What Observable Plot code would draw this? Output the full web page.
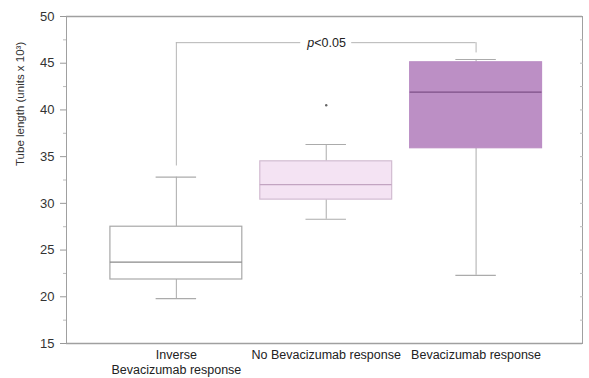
<!DOCTYPE html>
<html>
<head>
<meta charset="utf-8">
<script src="https://cdn.jsdelivr.net/npm/d3@7"></script>
<script src="https://cdn.jsdelivr.net/npm/@observablehq/plot@0.6"></script>
<style>
  html, body { margin: 0; padding: 0; background: #fff; }
  #chart svg { display: block; }
</style>
</head>
<body>
<div id="chart"></div>
<script>
// ---- data ----
const categories = ["Inverse\nBevacizumab response", "No Bevacizumab response", "Bevacizumab response"];
const whiskerLow  = [19.8, 28.3, 22.3];
const q1          = [21.85, 30.4, 35.9];
const median      = [23.7, 32.0, 41.9];
const q3          = [27.5, 34.5, 45.1];
const whiskerHigh = [32.8, 36.3, 45.4];
const outlierGroup = [1];
const outlierValue = [40.5];
const yTicks = [15, 20, 25, 30, 35, 40, 45, 50];
const yMinorTicks = [17.5, 22.5, 27.5, 32.5, 37.5, 42.5, 47.5];
const yLabel = "Tube length (units x 10³)";
const pLabelItalic = "p";
const pLabelRest = "<0.05";
const bracketGroups = [0, 2];
const bracketLevel = 47.2;
const bracketLegEnds = [34.0, 46.1];

// ---- styles ----
const boxFill   = ["#ffffff", "#f4e3f3", "#bc8fc5"];
const boxStroke = ["#a8a8a8", "#d2bcd1", "#bc8fc5"];
const medStroke = ["#8a8a8a", "#c2a4c1", "#7d4f86"];
const halfBox = 0.44, halfCap = 0.135, halfGap = 0.17;
const font = "Liberation Sans, Arial, sans-serif";

const rows = categories.map((c, i) => ({
  i, pos: i + 1, c, lo: whiskerLow[i], q1: q1[i], med: median[i], q3: q3[i], hi: whiskerHigh[i]
}));
const outliers = outlierGroup.map((g, k) => ({pos: g + 1, v: outlierValue[k]}));
const bx1 = bracketGroups[0] + 1, bx2 = bracketGroups[1] + 1, bmid = (bx1 + bx2) / 2;
const bracketSegs = [{x1: bx1, x2: bmid - halfGap}, {x1: bmid + halfGap, x2: bx2}];

const chart = Plot.plot({
  width: 589,
  height: 378,
  marginLeft: 66,
  marginRight: 7,
  marginTop: 16,
  marginBottom: 35,
  style: {fontFamily: font, color: "#222", background: "#fff"},
  x: {type: "linear", domain: [0.267, 3.71]},
  y: {domain: [15, 50]},
  marks: [
    Plot.frame({stroke: "#a0a0a0"}),
    Plot.ruleY([15, 50], {stroke: "#a0a0a0", strokeWidth: 1.6}),
    Plot.axisY(yTicks, {tickSize: 6, tickPadding: 6, fontSize: 13, stroke: "#999", fill: "#333", label: null}),
    Plot.axisY(yMinorTicks, {tickSize: 3, tickFormat: () => "", stroke: "#bbb", label: null}),
    Plot.axisY(yMinorTicks.concat(yTicks.slice(1, -1)), {anchor: "right", tickSize: -3, tickFormat: () => "", stroke: "#bbb", label: null}),
    Plot.axisX([1, 2, 3], {tickSize: 0, tickPadding: 5, fontSize: 12.5, fill: "#222", lineHeight: 1.2, tickFormat: d => categories[d - 1], label: null}),
    Plot.text([yLabel], {frameAnchor: "left", rotate: -90, dx: -46, dy: -14, fontSize: 11.5, fill: "#333"}),
    // whiskers
    Plot.ruleX(rows, {x: "pos", y1: "lo", y2: "q1", stroke: "#ababab"}),
    Plot.ruleX(rows, {x: "pos", y1: "q3", y2: "hi", stroke: "#ababab"}),
    Plot.ruleY(rows, {y: "lo", x1: d => d.pos - halfCap, x2: d => d.pos + halfCap, stroke: "#ababab", strokeWidth: 1.2}),
    Plot.ruleY(rows, {y: "hi", x1: d => d.pos - halfCap, x2: d => d.pos + halfCap, stroke: "#ababab", strokeWidth: 1.2}),
    // boxes
    Plot.rect(rows, {x1: d => d.pos - halfBox, x2: d => d.pos + halfBox, y1: "q1", y2: "q3",
      fill: d => boxFill[d.i], stroke: d => boxStroke[d.i], strokeWidth: 1.2}),
    Plot.ruleY(rows, {y: "med", x1: d => d.pos - halfBox, x2: d => d.pos + halfBox, stroke: d => medStroke[d.i], strokeWidth: 1.3}),
    // outliers
    Plot.dot(outliers, {x: "pos", y: "v", r: 1.2, fill: "#666", stroke: null}),
    // significance bracket
    Plot.ruleY(bracketSegs, {y: bracketLevel, x1: "x1", x2: "x2", stroke: "#b5b5b5"}),
    Plot.ruleX([{x: bx1, y1: bracketLegEnds[0]}, {x: bx2, y1: bracketLegEnds[1]}], {x: "x", y1: "y1", y2: bracketLevel, stroke: "#b5b5b5"}),
    Plot.text([pLabelItalic], {x: bmid, y: bracketLevel, textAnchor: "end", dx: -12, fontSize: 12.5, fontStyle: "italic", fill: "#222"}),
    Plot.text([pLabelRest], {x: bmid, y: bracketLevel, textAnchor: "start", dx: -12, fontSize: 12.5, fill: "#222"})
  ]
});
document.getElementById("chart").appendChild(chart);
</script>
</body>
</html>
